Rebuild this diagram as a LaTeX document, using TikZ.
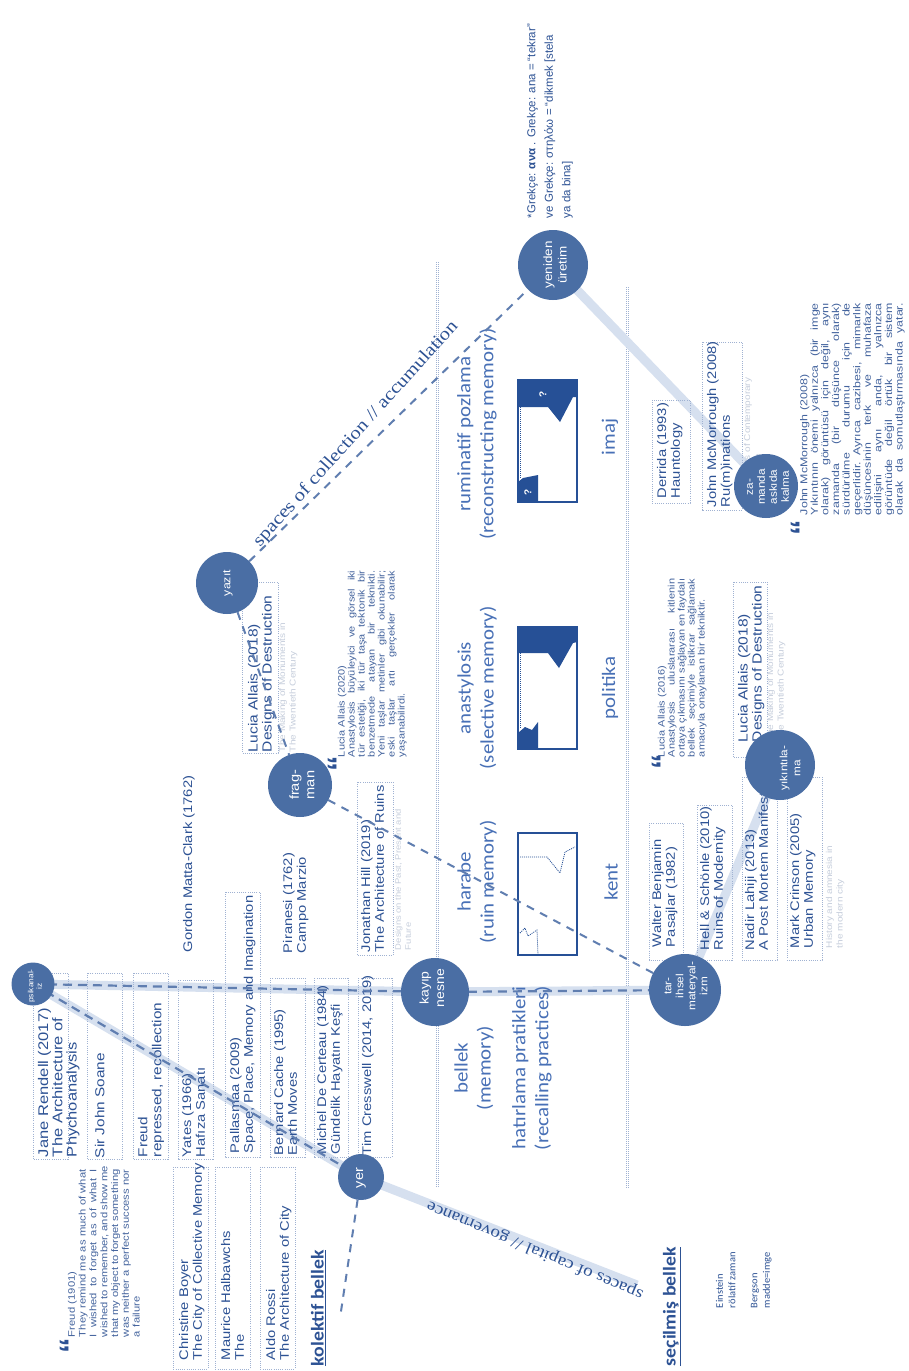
\documentclass[tikz,border=0pt]{standalone}
\usepackage{fontspec}
\setmainfont{Liberation Sans}
\newfontfamily\carfont{Carlito}
\newfontfamily\serfont{Liberation Serif}
\definecolor{refblue}{RGB}{45,82,148}
\definecolor{lblblue}{RGB}{72,112,182}
\definecolor{circblue}{RGB}{74,110,164}
\definecolor{bandblue}{RGB}{214,224,239}
\definecolor{dashblue}{RGB}{96,126,176}
\definecolor{dotblue}{RGB}{160,178,210}
\definecolor{faintgray}{RGB}{198,206,220}
\definecolor{quoteblue}{RGB}{68,100,158}
\definecolor{darkfill}{RGB}{38,80,150}
\pgfdeclarelayer{bg}
\pgfdeclarelayer{mid}
\pgfdeclarelayer{fg}
\pgfsetlayers{bg,main,mid,fg}
\def\qw{142pt}
\newcommand{\jbox}[1]{\makebox[\qw][s]{\spaceskip=0.28em plus 1fil minus 0.05em\relax #1}}
\newcommand{\jl}[1]{\jbox{#1}\\}
\tikzset{
  rot/.style={rotate=90, inner sep=0pt, outer sep=0pt},
  ref/.style={rot, xscale=1.18, anchor=north west, align=left, text=refblue, font=\fontsize{12.5}{13.8}\selectfont},
  faint/.style={rot, xscale=1.18, anchor=north west, align=left, text=faintgray, font=\fontsize{8.5}{10.5}\selectfont},
  quote/.style={rot, xscale=1.18, anchor=north west, align=left, text=quoteblue, font=\fontsize{9.5}{10.8}\selectfont},
  qmark/.style={rot, text=refblue, font=\fontsize{31}{31}\selectfont\bfseries},
  lbl/.style={rot, xscale=1.1, align=center, text=lblblue, font=\carfont\fontsize{19}{23}\selectfont},
  circ/.style={circle, fill=circblue, draw=none, inner sep=0pt, outer sep=0pt},
  ctext/.style={rot, xscale=1.12, align=center, text=white, font=\fontsize{12}{14}\selectfont},
  refbox/.style={draw=dotblue, line width=0.8pt, dash pattern=on 1pt off 1.2pt},
  colline/.style={draw=dotblue, line width=0.7pt, dash pattern=on 1pt off 1pt},
  band/.style={draw=bandblue, line width=9pt},
  bdash/.style={draw=dashblue, line width=2.2pt, dash pattern=on 9pt off 6pt},
  dashl/.style={draw=dashblue, line width=2pt, dash pattern=on 8pt off 7pt},
  ruin/.style={draw=darkfill, line width=1.2pt},
  ruinfill/.style={fill=darkfill, draw=none},
  ruindot/.style={draw=darkfill, line width=0.8pt, dash pattern=on 1pt off 1pt},
  qm/.style={rot, text=white, font=\fontsize{10}{10}\selectfont\bfseries},
}
\begin{document}
\begin{tikzpicture}[x=1pt,y=-1pt]
\useasboundingbox (0,0) rectangle (908,1371);

% ---------- circles (foreground) ----------
\begin{pgfonlayer}{fg}
\node[circ, minimum size=43pt] (psi) at (33,984) {};
\node[circ, minimum size=46pt] (yer) at (361,1177) {};
\node[circ, minimum size=68pt] (kay) at (435,992) {};
\node[circ, minimum size=72pt] (tar) at (685,990) {};
\node[circ, minimum size=64pt] (frag) at (300,785) {};
\node[circ, minimum size=62pt] (yazit) at (227,583) {};
\node[circ, minimum size=70pt] (yen) at (553,265) {};
\node[circ, minimum size=70pt] (yik) at (780,765) {};
\node[circ, minimum size=64pt] (zam) at (766,486) {};
\node[ctext, font=\fontsize{7.5}{8.5}\selectfont] (psi-t) at (35,986) {psikanal-\\iz};
\node[ctext, font=\fontsize{13}{15}\selectfont] (yer-t) at (361,1178) {yer};
\node[ctext, font=\fontsize{12.5}{15.5}\selectfont] (kay-t) at (432,988) {kayıp\\nesne};
\node[ctext, font=\fontsize{10.5}{12}\selectfont] (tar-t) at (686,986) {tar-\\ihsel\\materyal-\\izm};
\node[ctext, font=\fontsize{13}{15.5}\selectfont] (frag-t) at (302,785) {frag-\\man};
\node[ctext, font=\fontsize{11}{13}\selectfont] (yazit-t) at (228,583) {yazıt};
\node[ctext, font=\fontsize{12}{14.5}\selectfont] (yen-t) at (555,265) {yeniden\\üretim};
\node[ctext, font=\fontsize{10.5}{13}\selectfont] (yik-t) at (790,768) {yıkıntıla-\\ma};
\node[ctext, font=\fontsize{10.5}{12}\selectfont] (zam-t) at (768,487) {za-\\manda\\askıda\\kalma};
\end{pgfonlayer}

% ---------- background: white, column lines, bands, boxes ----------
\begin{pgfonlayer}{bg}
\fill[white] (0,0) rectangle (908,1371);
\draw[colline] (436,262) -- (436,1188);
\draw[colline] (438.5,262) -- (438.5,1188);
\draw[colline] (626,287) -- (626,1188);
\draw[colline] (628.5,287) -- (628.5,1188);
\coordinate (sb) at (637,1285);
\draw[band] (psi.center) -- (kay.center) -- (tar.center);
\draw[band] (psi.center) -- (yer.center);
\draw[band] (yer.center) -- (sb);
\draw[band] (tar.center) -- (yik.center);
\draw[band] (yen.center) -- (zam.center);
% reference boxes
\draw[refbox] (33,973) rectangle (68,1159);
\draw[refbox] (87,973) rectangle (122,1159);
\draw[refbox] (133,973) rectangle (168,1159);
\draw[refbox] (178,980) rectangle (213,1159);
\draw[refbox] (225,892) rectangle (260,1157);
\draw[refbox] (270,978) rectangle (305,1157);
\draw[refbox] (314,978) rectangle (348,1157);
\draw[refbox] (358,978) rectangle (392,1157);
\draw[refbox] (173,1167) rectangle (208,1369);
\draw[refbox] (215,1167) rectangle (250,1369);
\draw[refbox] (260,1167) rectangle (295,1369);
\draw[refbox] (357,782) rectangle (393,955);
\draw[refbox] (242,582) rectangle (278,753);
\draw[refbox] (652,400) rectangle (690,503);
\draw[refbox] (702,342) rectangle (742,510);
\draw[refbox] (733,582) rectangle (767,757);
\draw[refbox] (649,823) rectangle (683,960);
\draw[refbox] (697,805) rectangle (732,960);
\draw[refbox] (742,777) rectangle (777,960);
\draw[refbox] (787,777) rectangle (822,960);
\end{pgfonlayer}

% ---------- dashed connectors ----------
\begin{pgfonlayer}{mid}
\coordinate (yend) at (340,1318);
\draw[bdash] (psi.center) -- (kay.center) -- (tar.center);
\draw[bdash] (psi.center) -- (yer.center);
\draw[dashl] (yer) -- (yend);
\draw[dashl] (yazit) -- (yen);
\draw[dashl] (yazit) -- (frag);
\draw[dashl] (frag) -- (tar);
\end{pgfonlayer}

% ---------- ruin box graphics ----------
\fill[ruinfill] (518,380) -- (577,380) -- (577,397) -- (573,397) -- (560,422) -- (548,407) -- (518,407) -- cycle;
\fill[ruinfill] (518,502) -- (538,502) -- (538,475) -- (523,478) -- (518,482) -- cycle;
\draw[ruindot] (520.5,407) -- (520.5,478);
\draw[ruin] (518,380) rectangle (577,502);
\node[qm] (q1) at (543,394) {?};
\node[qm] (q2) at (528,492) {?};

\fill[ruinfill] (518,627) -- (577,627) -- (577,642) -- (573,643) -- (559,668) -- (548,653) -- (518,653) -- cycle;
\fill[ruinfill] (518,749) -- (538,749) -- (538,722) -- (532,730) -- (525,727) -- (518,733) -- cycle;
\draw[ruindot] (520.5,653) -- (520.5,728);
\draw[ruin] (518,627) rectangle (577,749);

\draw[ruin] (518,833) rectangle (577,955);
\draw[ruindot] (520,857) -- (547,857) -- (560,873) -- (565,852) -- (575,847);
\draw[ruindot] (520,933) -- (525,928) -- (528,936) -- (537,930) -- (538,955);

% ---------- column labels ----------
\node[lbl] (rum) at (477,434) {ruminatif pozlama\\(reconstructing memory)};
\node[lbl] (ana) at (477,688) {anastylosis\\(selective memory)};
\node[lbl] (har) at (477,882) {harabe\\(ruin memory)};
\node[lbl] (bel) at (474,1068) {bellek\\(memory)};
\node[lbl] (hat) at (532,1068) {hatırlama pratikleri\\(recalling practices)};
\node[lbl] (imaj) at (610,437) {imaj};
\node[lbl] (pol) at (610,688) {politika};
\node[lbl] (kent) at (611,882) {kent};

% ---------- references ----------
\node[ref, font=\fontsize{14}{14.3}\selectfont] (jr) at (38,1157) {Jane Rendell (2017)\\The Architecture of\\Phychoanalysis};
\node[ref, font=\fontsize{13}{14}\selectfont] (sjs) at (95,1158) {Sir John Soane};
\node[ref, font=\fontsize{13}{14}\selectfont] (frd) at (138,1157) {Freud\\repressed, recollection};
\node[ref] (yat) at (182,1157) {Yates (1966)\\Hafıza Sanatı};
\node[ref] (pal) at (230,1153) {Pallasmaa (2009)\\Space, Place, Memory and Imagination};
\node[ref] (bc) at (274,1155) {Bernard Cache (1995)\\Earth Moves};
\node[ref] (mdc) at (317,1154) {Michel De Certeau (1984)\\Gündelik Hayatın Keşfi};
\node[ref] (tc) at (362,1155) {Tim Cresswell (2014, 2019)};
\node[ref] (cb) at (179,1360) {Christine Boyer\\The City of Collective Memory};
\node[ref] (mh) at (221,1360) {Maurice Halbawchs\\The};
\node[ref] (ar) at (266,1360) {Aldo Rossi\\The Architecture of City};
\node[ref] (gmc) at (183,952) {Gordon Matta-Clark (1762)};
\node[ref] (pir) at (283,953) {Piranesi (1762)\\Campo Marzio};
\node[ref] (jh) at (361,952) {Jonathan Hill (2019)\\The Architecture of Ruins};
\node[faint, font=\fontsize{8}{10}\selectfont] (jhf) at (395,950) {Designs on the Past, Present and\\Future};
\node[ref, font=\fontsize{13.2}{14}\selectfont] (lal) at (248,752) {Lucia Allais (2018)\\Designs of Destruction};
\node[faint] (lalf) at (279,752) {The Making of Monuments in\\The Twentieth Century};
\node[ref] (der) at (657,498) {Derrida (1993)\\Hauntology};
\node[ref] (mcr) at (707,507) {John McMorrough (2008)\\Ru(m)inations};
\node[faint] (mcrf) at (744,507) {The Haunts of Contemporary\\Architecture};
\node[ref, font=\fontsize{13.2}{14}\selectfont] (lar) at (738,742) {Lucia Allais (2018)\\Designs of Destruction};
\node[faint] (larf) at (767,742) {The Making of Monuments in\\The Twentieth Century};
\node[ref] (wb) at (652,947) {Walter Benjamin\\Pasajlar (1982)};
\node[ref] (hs) at (700,950) {Hell \& Schönle (2010)\\Ruins of Modernity};
\node[ref] (nl) at (745,950) {Nadir Lahiji (2013)\\A Post Mortem Manifesto};
\node[ref] (mc) at (790,948) {Mark Crinson (2005)\\Urban Memory};
\node[faint] (mcf) at (826,948) {History and amnesia in\\the modern city};

% ---------- quotes ----------
\node[qmark] (fqm) at (71,1346) {“};
\def\qw{142pt}
\node[quote, text width=142pt] (fq) at (68,1337) {Freud (1901)\\\jl{They remind me as much of what}\jl{I wished to forget as of what I}\jl{wished to remember, and show me}\jl{that my object to forget something}\jl{was neither a perfect success nor}a failure};
\node[qmark] (l20m) at (339,764) {“};
\def\qw{158pt}
\node[quote, text width=158pt, font=\fontsize{9.3}{10}\selectfont] (l20) at (338,757) {Lucia Allais (2020)\\\jl{Anastylosis büyüleyici ve görsel iki}\jl{tür estetiği, iki tür taşa tektonik bir}\jl{benzetmede atayan bir teknikti.}\jl{Yeni taşlar metinler gibi okunabilir;}\jl{eski taşlar artı gerçekler olarak}yaşanabilirdi.};
\node[qmark] (l16m) at (663,762) {“};
\def\qw{151pt}
\node[quote, text width=151pt, font=\fontsize{9.3}{10}\selectfont] (l16) at (658,757) {Lucia Allais (2016)\\\jl{Anastylosis uluslararası kitlenin}\jl{ortaya çıkmasını sağlayan en faydalı}\jl{bellek seçimiyle istikrar sağlamak}amacıyla onaylanan bir tekniktir.};
\node[qmark] (mcm) at (802,528) {“};
\def\qw{171pt}
\node[quote, xscale=1.05, text width=171pt, font=\fontsize{10}{10.6}\selectfont] (mcq) at (800,515) {John McMorrough (2008)\\\jl{Yıkıntının önemi yalnızca (bir imge}\jl{olarak) görüntüsü için değil, aynı}\jl{zamanda (bir düşünce olarak)}\jl{sürdürülme durumu için de}\jl{geçerlidir. Ayrıca cazibesi, mimarlık}\jl{düşüncesinin terk ve muhafaza}\jl{edilişini aynı anda, yalnızca}\jl{görüntüde değil örtük bir sistem}\jbox{olarak da somutlaştırmasında yatar.}};

% ---------- Greek note ----------
\node[rot, anchor=north west, align=left, text=refblue, font=\fontsize{11.5}{17.5}\selectfont] (grk) at (527,218) {*Grekçe: \textbf{ανα} . Grekçe: ana = “tekrar”\\ve Grekçe: στηλόω = “dikmek [stela\\ya da bina]};

% ---------- diagonal serif labels ----------
\node[rotate=48, xscale=1.15, inner sep=0pt, text=refblue, font=\serfont\fontsize{18}{20}\selectfont] (soc) at (356,434) {spaces of collection // accumulation};
\node[rotate=157.4, xscale=1.15, inner sep=0pt, text=refblue, font=\serfont\fontsize{16.5}{18}\selectfont] (scap) at (535,1250) {spaces of capital // governance};

% ---------- titles ----------
\node[rot, xscale=1.1, anchor=north west, text=refblue, font=\carfont\bfseries\fontsize{18}{20}\selectfont] (kb) at (311,1366) {\underline{kolektif bellek}};
\node[rot, xscale=1.1, anchor=north west, text=refblue, font=\carfont\bfseries\fontsize{18}{20}\selectfont] (sb-t) at (663,1366) {\underline{seçilmiş bellek}};
\node[rot, xscale=1.05, anchor=north west, align=left, text=refblue, font=\carfont\fontsize{10}{12.5}\selectfont] (ein) at (716,1308) {Einstein\\rölatif zaman};
\node[rot, xscale=1.05, anchor=north west, align=left, text=refblue, font=\carfont\fontsize{10}{12.5}\selectfont] (ber) at (751,1308) {Bergson\\madde=imge};
\end{tikzpicture}
\end{document}
